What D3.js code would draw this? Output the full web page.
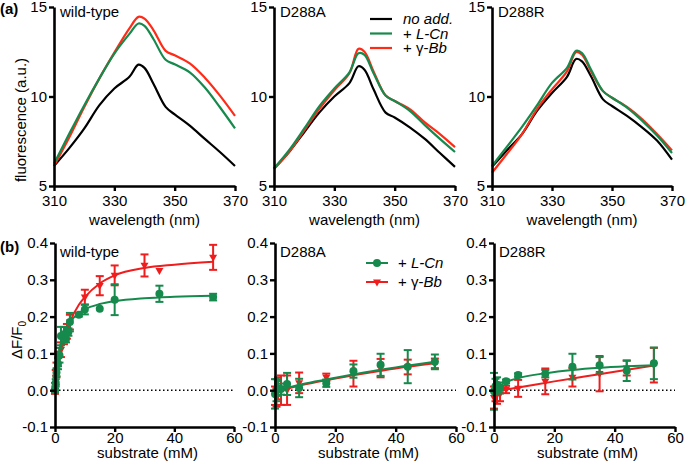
<!DOCTYPE html>
<html>
<head>
<meta charset="utf-8">
<script src="https://cdn.jsdelivr.net/npm/d3@7"></script>
<style>
body { margin: 0; background: #fff; }
text { font-family: "Liberation Sans", Arial, sans-serif; fill: #000; }
</style>
</head>
<body>
<div id="chart"></div>
<script>
// ---- spectra (a) ----
var wavelengths = [310, 315, 320, 325, 330, 335, 338, 340, 343, 347, 350, 355, 360, 365, 370];
var wtNoAdd = [6.12, 7.1, 8.2, 9.5, 10.45, 11.1, 11.78, 11.6, 10.7, 9.42, 9.0, 8.37, 7.63, 6.9, 6.12];
var wtLCn   = [6.25, 7.9, 9.5, 11.0, 12.4, 13.5, 14.08, 13.95, 13.2, 12.05, 11.8, 11.35, 10.5, 9.4, 8.22];
var wtBb    = [6.12, 7.7, 9.4, 11.0, 12.45, 13.8, 14.45, 14.35, 13.7, 12.55, 12.3, 11.85, 11.05, 10.05, 8.92];
var aNoAdd  = [5.98, 6.9, 8.0, 9.1, 10.0, 10.75, 11.69, 11.5, 10.4, 9.1, 8.83, 8.28, 7.63, 6.84, 6.07];
var aLCn    = [5.98, 7.0, 8.2, 9.45, 10.45, 11.35, 12.42, 12.33, 11.3, 10.05, 9.75, 9.2, 8.4, 7.63, 6.9];
var aBb     = [5.95, 6.9, 8.1, 9.3, 10.35, 11.3, 12.66, 12.5, 11.4, 10.05, 9.75, 9.3, 8.55, 7.9, 7.17];
var rNoAdd  = [6.07, 7.0, 7.9, 9.2, 10.2, 11.1, 12.1, 11.96, 11.13, 9.84, 9.47, 8.92, 8.28, 7.54, 6.47];
var rLCn    = [6.12, 7.2, 8.3, 9.5, 10.76, 11.6, 12.55, 12.43, 11.5, 10.3, 9.93, 9.38, 8.65, 7.82, 6.84];
var rBb     = [5.74, 6.8, 7.9, 9.3, 10.4, 11.4, 12.48, 12.33, 11.4, 10.3, 9.93, 9.42, 8.74, 7.9, 6.99];
var specXTicks = [310, 330, 350, 370];
var specYTicks = [5, 10, 15];

// ---- titration (b) ----
var wtCnX   = [0, 0.25, 0.5, 1, 1.5, 2, 3, 3.7, 4.5, 5, 8, 10, 15, 20, 35, 53];
var wtCnY   = [0, 0.02, 0.048, 0.072, 0.095, 0.147, 0.152, 0.14, 0.158, 0.185, 0.205, 0.219, 0.221, 0.246, 0.262, 0.253];
var wtCnErr = [0.005, 0.01, 0.01, 0.015, 0.02, 0.025, 0.02, 0.01, 0.01, 0.025, 0.005, 0.013, 0, 0.042, 0.022, 0.009];
var wtBbX   = [0, 0.25, 0.5, 1, 2, 3, 4, 5, 10, 15, 20, 30, 35, 53];
var wtBbY   = [0.005, 0.035, 0.055, 0.085, 0.11, 0.14, 0.16, 0.185, 0.253, 0.284, 0.312, 0.339, 0.325, 0.361];
var wtBbErr = [0.015, 0.02, 0.02, 0.02, 0.02, 0.015, 0.02, 0.02, 0.02, 0.026, 0.027, 0.03, 0, 0.034];
var wtFitX  = [0, 0.5, 1, 2, 3, 5, 8, 10, 15, 20, 30, 40, 53];
var wtCnFit = [0, 0.05, 0.085, 0.13, 0.155, 0.185, 0.21, 0.22, 0.234, 0.242, 0.25, 0.254, 0.257];
var wtBbFit = [0, 0.035, 0.06, 0.1, 0.135, 0.185, 0.232, 0.253, 0.29, 0.312, 0.332, 0.341, 0.349];

var subX    = [0, 0.5, 1, 2, 4, 8, 17, 26, 35, 44, 53];
var aCnY    = [-0.01, 0.0, 0.005, 0.003, 0.017, 0.006, 0.019, 0.052, 0.069, 0.064, 0.077];
var aCnErr  = [0.04, 0.03, 0.02, 0.015, 0.03, 0.025, 0.01, 0.018, 0.03, 0.045, 0.02];
var aBbY    = [-0.015, -0.02, 0.005, 0.0, 0.0, 0.02, 0.035, 0.045, 0.06, 0.063, 0.073];
var aBbErr  = [0.025, 0.025, 0.03, 0.04, 0.04, 0.028, 0.01, 0.035, 0.025, 0.02, 0.013];
var aFitX   = [0, 10, 20, 30, 40, 53];
var aCnFit  = [-0.002, 0.018, 0.034, 0.049, 0.062, 0.077];
var aBbFit  = [-0.004, 0.016, 0.032, 0.046, 0.059, 0.073];

var rCnY    = [-0.003, 0.011, 0.015, 0.006, 0.024, 0.041, 0.045, 0.064, 0.068, 0.053, 0.073];
var rCnErr  = [0.05, 0.02, 0.02, 0.015, 0.005, 0.005, 0.01, 0.035, 0.022, 0.028, 0.043];
var rBbY    = [-0.02, -0.01, -0.012, -0.01, 0.002, 0.005, 0.024, 0.035, 0.045, 0.06, 0.068];
var rBbErr  = [0.03, 0.02, 0.025, 0.02, 0.01, 0.023, 0.035, 0.025, 0.048, 0.02, 0.047];
var rCnFitX = [0, 1, 2, 4, 8, 17, 26, 35, 44, 53];
var rCnFit  = [0, 0.008, 0.013, 0.022, 0.033, 0.046, 0.055, 0.061, 0.065, 0.068];
var rBbFitX = [0, 10, 20, 30, 40, 53];
var rBbFit  = [-0.004, 0.01, 0.024, 0.037, 0.05, 0.067];

var subXTicks = [0, 20, 40, 60];
var subYTicks = [-0.1, 0.0, 0.1, 0.2, 0.3, 0.4];

var GREEN = "#168a4c";
var RED = "#ff2b17";
var RED2 = "#ef1d1d";

function init() {
    var w = 685, h = 472;
    var svg = d3.select("#chart").append("svg")
        .attr("width", w).attr("height", h);

    function styleAxis(g) {
        g.select(".domain").attr("stroke", "#000").attr("stroke-width", 2.6);
        g.selectAll(".tick line").attr("stroke", "#000").attr("stroke-width", 2.4);
        g.selectAll(".tick text").attr("font-size", 15)
            .attr("font-family", "Liberation Sans, Arial, sans-serif").attr("fill", "#000");
    }

    // ---------- top row ----------
    var topCols = [[54, 235], [274, 455], [492, 672]];
    var topSets = [
        {name: "wild-type", k: wtNoAdd, g: wtLCn, r: wtBb},
        {name: "D288A", k: aNoAdd, g: aLCn, r: aBb},
        {name: "D288R", k: rNoAdd, g: rLCn, r: rBb}
    ];
    var yTop = d3.scaleLinear().domain([5, 15]).range([186, 7]);

    topSets.forEach(function(s, i) {
        var x = d3.scaleLinear().domain([310, 370]).range(topCols[i]);
        var line = d3.line()
            .x(function(d, j) { return x(wavelengths[j]); })
            .y(function(d) { return yTop(d); })
            .curve(d3.curveCatmullRom);

        [[s.k, "#000"], [s.r, RED], [s.g, GREEN]].forEach(function(p) {
            svg.append("path").datum(p[0])
                .attr("d", line).attr("fill", "none")
                .attr("stroke", p[1]).attr("stroke-width", 2.2);
        });

        svg.append("g").attr("transform", "translate(0,186)")
            .call(d3.axisBottom(x).tickValues(specXTicks).tickSize(5).tickSizeOuter(0).tickPadding(4))
            .call(styleAxis);
        svg.append("g").attr("transform", "translate(" + topCols[i][0] + ",0)")
            .call(d3.axisLeft(yTop).tickValues(specYTicks).tickSize(5).tickSizeOuter(0).tickPadding(2))
            .call(styleAxis);

        svg.append("text").attr("x", topCols[i][0] + 6).attr("y", 17)
            .attr("font-size", 15).text(s.name);
        svg.append("text").attr("x", (topCols[i][0] + topCols[i][1]) / 2).attr("y", 225)
            .attr("text-anchor", "middle").attr("font-size", 15).text("wavelength (nm)");
    });

    svg.append("text").attr("transform", "translate(26,120) rotate(-90)")
        .attr("text-anchor", "middle").attr("font-size", 15).text("fluorescence (a.u.)");
    svg.append("text").attr("x", 0).attr("y", 14).attr("font-size", 15)
        .attr("font-weight", "bold").text("(a)");

    // top legend
    var legAy = [19, 33.5, 48];
    var legAc = ["#000", GREEN, RED];
    legAc.forEach(function(c, i) {
        svg.append("line").attr("x1", 370).attr("x2", 392)
            .attr("y1", legAy[i]).attr("y2", legAy[i])
            .attr("stroke", c).attr("stroke-width", 2.2);
        var t = svg.append("text").attr("x", 403).attr("y", legAy[i]).attr("dy", "0.35em")
            .attr("font-size", 15);
        if (i === 0) {
            t.append("tspan").attr("font-style", "italic").text("no add.");
        } else if (i === 1) {
            t.append("tspan").text("+ ");
            t.append("tspan").attr("font-style", "italic").text("L-Cn");
        } else {
            t.append("tspan").text("+ \u03b3-");
            t.append("tspan").attr("font-style", "italic").text("Bb");
        }
    });

    // ---------- bottom row ----------
    var botCols = [[55, 234], [275, 456], [494, 675]];
    var yBot = d3.scaleLinear().domain([-0.1, 0.4]).range([427, 243]);
    var botSets = [
        {name: "wild-type",
         cn: {x: wtCnX, y: wtCnY, e: wtCnErr, fx: wtFitX, f: wtCnFit},
         bb: {x: wtBbX, y: wtBbY, e: wtBbErr, fx: wtFitX, f: wtBbFit}},
        {name: "D288A",
         cn: {x: subX, y: aCnY, e: aCnErr, fx: aFitX, f: aCnFit},
         bb: {x: subX, y: aBbY, e: aBbErr, fx: aFitX, f: aBbFit}},
        {name: "D288R",
         cn: {x: subX, y: rCnY, e: rCnErr, fx: rCnFitX, f: rCnFit},
         bb: {x: subX, y: rBbY, e: rBbErr, fx: rBbFitX, f: rBbFit}}
    ];

    var triPath = "M-4,-2.6L4,-2.6L0,4.4Z";

    function drawSeries(x, s, color, isTri) {
        var fit = d3.line()
            .x(function(d, j) { return x(s.fx[j]); })
            .y(function(d) { return yBot(d); })
            .curve(d3.curveMonotoneX);
        svg.append("path").datum(s.f).attr("d", fit).attr("fill", "none")
            .attr("stroke", color).attr("stroke-width", 2);
        s.y.forEach(function(v, j) {
            if (!s.e[j]) return;
            var cx = x(s.x[j]);
            var hi = yBot(v + s.e[j]), lo = yBot(v - s.e[j]);
            var g = svg.append("g").attr("stroke", color).attr("stroke-width", 2);
            g.append("line").attr("x1", cx).attr("x2", cx).attr("y1", hi).attr("y2", lo);
            g.append("line").attr("x1", cx - 4).attr("x2", cx + 4).attr("y1", hi).attr("y2", hi);
            g.append("line").attr("x1", cx - 4).attr("x2", cx + 4).attr("y1", lo).attr("y2", lo);
        });
        s.y.forEach(function(v, j) {
            var cx = x(s.x[j]), cy = yBot(v);
            if (isTri) {
                svg.append("path").attr("d", triPath)
                    .attr("transform", "translate(" + cx + "," + cy + ")").attr("fill", color);
            } else {
                svg.append("circle").attr("cx", cx).attr("cy", cy).attr("r", 4).attr("fill", color);
            }
        });
    }

    botSets.forEach(function(s, i) {
        var x = d3.scaleLinear().domain([0, 60]).range(botCols[i]);

        svg.append("line").attr("x1", botCols[i][0]).attr("x2", botCols[i][1])
            .attr("y1", yBot(0)).attr("y2", yBot(0))
            .attr("stroke", "#000").attr("stroke-width", 1.5)
            .attr("stroke-dasharray", "1.5,2.5");

        drawSeries(x, s.bb, RED2, true);
        drawSeries(x, s.cn, GREEN, false);

        svg.append("g").attr("transform", "translate(0,427)")
            .call(d3.axisBottom(x).tickValues(subXTicks).tickSize(5).tickSizeOuter(0).tickPadding(0.5))
            .call(styleAxis);
        svg.append("g").attr("transform", "translate(" + botCols[i][0] + ",0)")
            .call(d3.axisLeft(yBot).tickValues(subYTicks).tickSize(5).tickSizeOuter(0).tickPadding(2)
                .tickFormat(function(d) { return d.toFixed(1); }))
            .call(styleAxis);

        svg.append("text").attr("x", botCols[i][0] + 5).attr("y", 257)
            .attr("font-size", 15).text(s.name);
        svg.append("text").attr("x", (botCols[i][0] + botCols[i][1]) / 2 + 3).attr("y", 458)
            .attr("text-anchor", "middle").attr("font-size", 15).text("substrate (mM)");
    });

    var yl = svg.append("text").attr("transform", "translate(22,340) rotate(-90)")
        .attr("text-anchor", "middle").attr("font-size", 15);
    yl.append("tspan").text("\u0394F/F");
    yl.append("tspan").attr("font-size", 10).attr("dy", 4).text("0");
    svg.append("text").attr("x", 0).attr("y", 252).attr("font-size", 15)
        .attr("font-weight", "bold").text("(b)");

    // bottom legend
    var legBy = [263, 282];
    [[GREEN, "L-Cn", false], [RED2, "Bb", true]].forEach(function(l, i) {
        svg.append("line").attr("x1", 366).attr("x2", 388)
            .attr("y1", legBy[i]).attr("y2", legBy[i])
            .attr("stroke", l[0]).attr("stroke-width", 2);
        if (l[2]) {
            svg.append("path").attr("d", triPath)
                .attr("transform", "translate(377," + legBy[i] + ")").attr("fill", l[0]);
        } else {
            svg.append("circle").attr("cx", 377).attr("cy", legBy[i]).attr("r", 4).attr("fill", l[0]);
        }
        var t = svg.append("text").attr("x", 398).attr("y", legBy[i]).attr("dy", "0.35em")
            .attr("font-size", 15);
        t.append("tspan").text(i === 0 ? "+ " : "+ \u03b3-");
        t.append("tspan").attr("font-style", "italic").text(l[1]);
    });
}

window.onload = init;
</script>
</body>
</html>
